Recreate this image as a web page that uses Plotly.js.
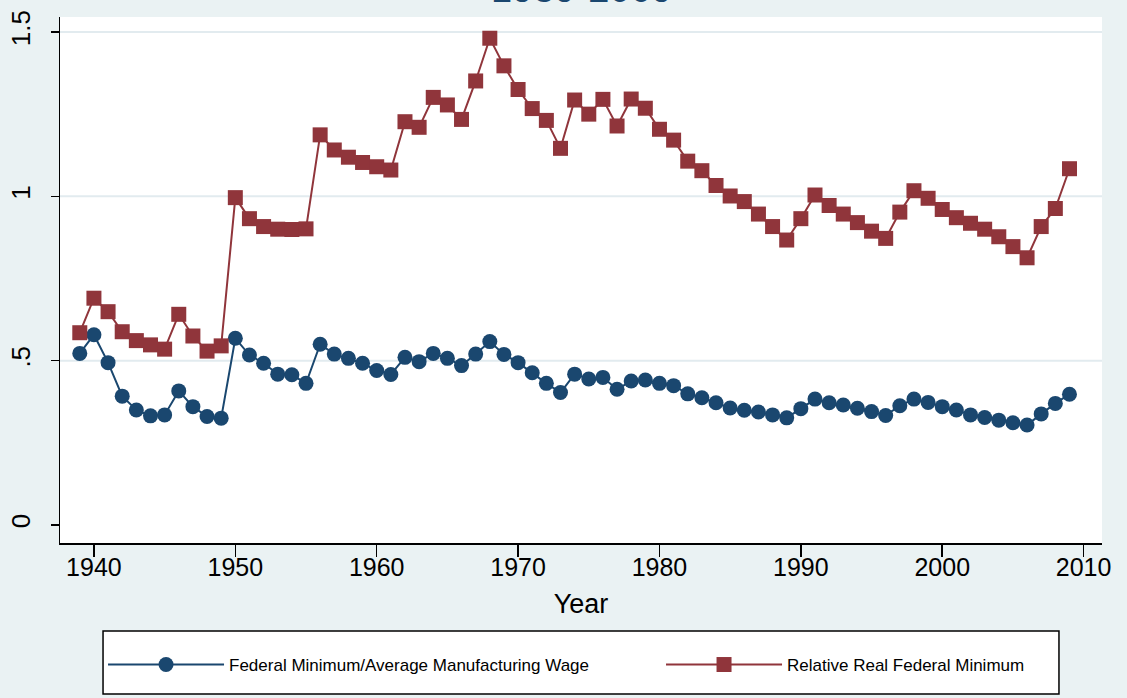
<!DOCTYPE html>
<html><head><meta charset="utf-8">
<script src="https://cdn.plot.ly/plotly-3.0.1.min.js"></script>
<style>html,body{margin:0;padding:0;background:#eaf2f3;}</style>
</head><body><div id="chart" style="width:1127px;height:698px;"></div>
<script>
const years = [1939,1940,1941,1942,1943,1944,1945,1946,1947,1948,1949,
  1950,1951,1952,1953,1954,1955,1956,1957,1958,1959,
  1960,1961,1962,1963,1964,1965,1966,1967,1968,1969,
  1970,1971,1972,1973,1974,1975,1976,1977,1978,1979,
  1980,1981,1982,1983,1984,1985,1986,1987,1988,1989,
  1990,1991,1992,1993,1994,1995,1996,1997,1998,1999,
  2000,2001,2002,2003,2004,2005,2006,2007,2008,2009];
const minToMfgWage = [0.522,0.579,0.494,0.392,0.350,0.332,0.335,0.408,0.360,0.330,0.325,
  0.568,0.517,0.492,0.459,0.457,0.431,0.550,0.520,0.507,0.492,
  0.470,0.458,0.510,0.497,0.522,0.507,0.485,0.520,0.558,0.519,
  0.494,0.463,0.431,0.403,0.459,0.444,0.449,0.413,0.438,0.441,
  0.431,0.424,0.399,0.387,0.372,0.356,0.349,0.344,0.335,0.326,
  0.354,0.383,0.372,0.365,0.355,0.345,0.333,0.363,0.383,0.373,
  0.360,0.350,0.335,0.327,0.319,0.311,0.304,0.338,0.370,0.398];
const relRealMin = [0.585,0.690,0.649,0.588,0.561,0.548,0.535,0.641,0.575,0.529,0.545,
  0.996,0.932,0.908,0.900,0.899,0.901,1.187,1.141,1.119,1.103,
  1.090,1.080,1.227,1.210,1.301,1.278,1.234,1.351,1.481,1.397,
  1.325,1.267,1.231,1.146,1.293,1.250,1.295,1.214,1.296,1.268,
  1.204,1.171,1.107,1.078,1.033,1.001,0.984,0.946,0.908,0.867,
  0.932,1.004,0.972,0.946,0.920,0.894,0.872,0.952,1.017,0.994,
  0.960,0.935,0.918,0.900,0.877,0.847,0.813,0.908,0.963,1.084];
const xTicks = [1940,1950,1960,1970,1980,1990,2000,2010];
const yTicks = [0,0.5,1,1.5];
const yTickText = ['0','.5','1','1.5'];
const gridVals = [0.5,1,1.5];
const seriesNames = ['Federal Minimum/Average Manufacturing Wage','Relative Real Federal Minimum'];
const titleText = '1939-2009';

const NAVY = '#1a476f', MAROON = '#90353b';
const FONT = '"Liberation Sans", Arial, sans-serif';

const traces = [
  {x: years, y: minToMfgWage, name: seriesNames[0], type: 'scatter', mode: 'lines+markers', legend: 'legend',
   line: {color: NAVY, width: 2}, marker: {color: NAVY, size: 15, symbol: 'circle'}},
  {x: years, y: relRealMin, name: seriesNames[1], type: 'scatter', mode: 'lines+markers', legend: 'legend2',
   line: {color: MAROON, width: 2}, marker: {color: MAROON, size: 15, symbol: 'square'}}
];

const shapes = gridVals.map(v => ({type: 'line', xref: 'paper', yref: 'y', x0: 0, x1: 1, y0: v, y1: v,
  line: {color: '#e2ebef', width: 2}, layer: 'below'}));
shapes.push({type: 'rect', xref: 'paper', yref: 'paper', x0: 0.0413, x1: 0.9587, y0: -0.1673, y1: -0.2871,
  fillcolor: 'white', line: {color: 'black', width: 1.5}, layer: 'above'});

const legendBase = {orientation: 'h', xanchor: 'left', yanchor: 'middle', y: -0.2319,
  bgcolor: 'rgba(0,0,0,0)', borderwidth: 0, itemwidth: 116,
  font: {family: FONT, size: 17, color: 'black'}};

const layout = {
  width: 1127, height: 698,
  margin: {l: 60, r: 25, t: 17, b: 155},
  paper_bgcolor: '#eaf2f3', plot_bgcolor: '#ffffff',
  title: {text: titleText, font: {family: FONT, size: 38, color: NAVY},
    x: 0.5163, xanchor: 'center', xref: 'container', yref: 'container', y: 0.997, yanchor: 'bottom'},
  showlegend: true,
  legend: Object.assign({}, legendBase, {x: 0.0413}),
  legend2: Object.assign({}, legendBase, {x: 0.5768}),
  xaxis: {range: [1937.6, 2011.3], tickvals: xTicks, ticks: 'outside', ticklen: 12, tickwidth: 1.5,
    tickcolor: 'black', showline: true, linecolor: 'black', linewidth: 1.5, showgrid: false, zeroline: false,
    ticklabelstandoff: -11,
    tickfont: {family: FONT, size: 25, color: 'black'},
    title: {text: 'Year', font: {family: FONT, size: 27, color: 'black'}, standoff: 14}},
  yaxis: {range: [-0.0548, 1.5456], tickvals: yTicks, ticktext: yTickText, tickangle: -90,
    ticks: 'outside', ticklen: 8, tickwidth: 1.5, tickcolor: 'black', showline: true, linecolor: 'black',
    linewidth: 1.5, showgrid: false, zeroline: false, ticklabelstandoff: 10,
    tickfont: {family: FONT, size: 26, color: 'black'}},
  shapes: shapes
};
Plotly.newPlot('chart', traces, layout, {displayModeBar: false, staticPlot: true});
</script></body></html>
